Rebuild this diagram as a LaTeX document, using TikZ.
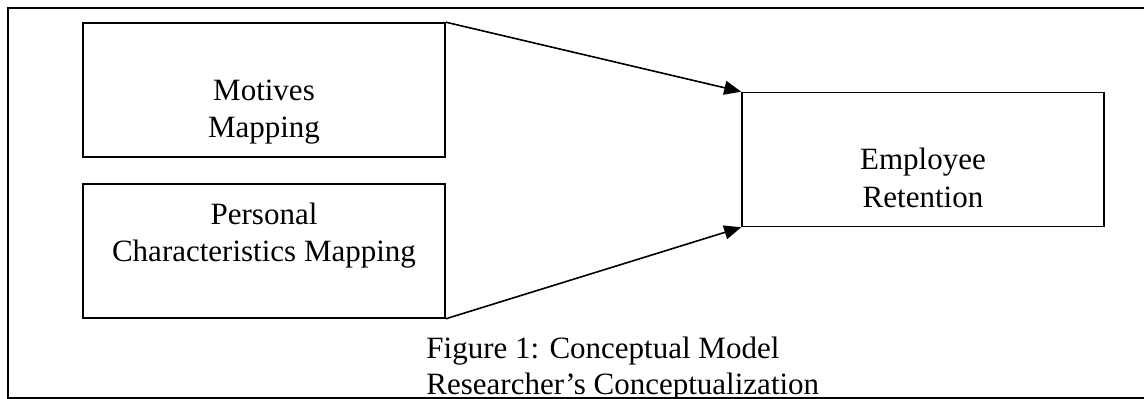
\documentclass[tikz,border=0pt]{standalone}
\usepackage{fontspec}
\setmainfont{Liberation Serif}
\usetikzlibrary{arrows.meta,positioning}
\newcommand{\fullstrut}{\rule[-0.216em]{0pt}{1.107em}}

\begin{document}
\begin{tikzpicture}[
  x=0.5pt, y=-0.5pt,
  box/.style={draw,line width=0.8pt,minimum width=181pt,minimum height=67pt,inner sep=0pt,align=center,font=\fontsize{15.5}{18.65}\selectfont},
  caption/.style={align=left,inner sep=0pt,anchor=west,font=\fontsize{15.5}{16.35}\selectfont},
  arr/.style={-{Triangle[length=8.5pt,width=7pt]},line width=0.8pt},
  frame/.style={draw,line width=0.8pt}
]
\useasboundingbox (0,0) rectangle (1144,399);
\draw[frame] (8,8) rectangle (1180,398);
\node[box] (motives) at (264,90) {\fullstrut\\Motives\\Mapping};
\node[box,below=12.7pt of motives] (personal) {\fullstrut Personal\\Characteristics Mapping\\\fullstrut};
\node[box] (employee) at (923,159.5) {\fullstrut\\Employee\\Retention\fullstrut};
\draw[arr] (motives.north east) -- (employee.north west);
\draw[arr] (personal.south east) -- (employee.south west);
\node[caption] (fig) at (426,366) {\fullstrut Figure 1: Conceptual Model\\Researcher’s Conceptualization\fullstrut};
\end{tikzpicture}
\end{document}
